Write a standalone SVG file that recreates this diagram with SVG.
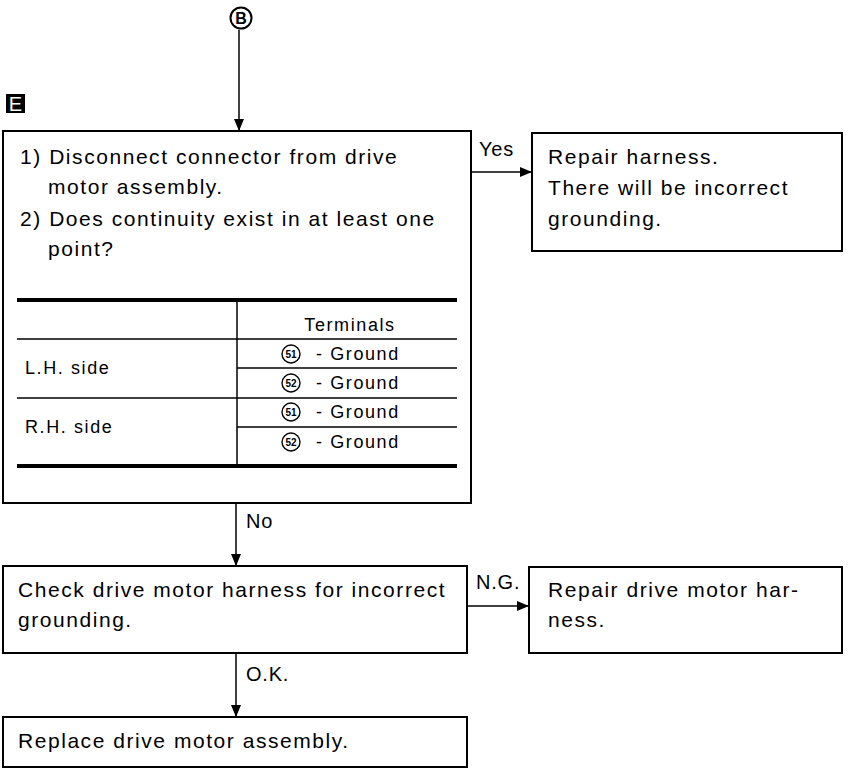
<svg xmlns="http://www.w3.org/2000/svg" width="850" height="772" viewBox="0 0 850 772">
<style>
.box{fill:#fff;stroke:#000;stroke-width:2}
.t{font-family:"Liberation Sans",Arial,sans-serif;font-size:21px;letter-spacing:1.55px;fill:#000}
.s{font-family:"Liberation Sans",Arial,sans-serif;font-size:18px;letter-spacing:1.6px;fill:#000}
.lbl{font-family:"Liberation Sans",Arial,sans-serif;font-size:20px;letter-spacing:0.8px;fill:#000}
.thin{stroke:#000;stroke-width:1.5;fill:none}
.thick{stroke:#000;stroke-width:4;fill:none}
.conn{stroke:#000;stroke-width:1.5;fill:none}
.cn{font-family:"Liberation Sans",Arial,sans-serif;font-size:10px;font-weight:bold;fill:#000}
.cc{fill:none;stroke:#000;stroke-width:1.4}
</style>
<defs>
<marker id="arr" viewBox="0 0 12 12" refX="12" refY="6" markerWidth="12" markerHeight="12" markerUnits="userSpaceOnUse" orient="auto">
<path d="M0,1 L12,6 L0,11 Z" fill="#000"/>
</marker>
</defs>
<rect width="850" height="772" fill="#fff"/>

<g id="start">
<circle cx="241" cy="18" r="10.5" fill="#fff" stroke="#000" stroke-width="2"/>
<text x="241" y="24" text-anchor="middle" font-family="Liberation Sans,Arial,sans-serif" font-size="16" font-weight="bold">B</text>
</g>

<g id="label-E">
<rect x="6" y="94" width="19" height="19" fill="#000"/>
<text x="15.5" y="111" text-anchor="middle" font-family="Liberation Sans,Arial,sans-serif" font-size="20" fill="#fff">E</text>
</g>

<g id="connectors">
<path class="conn" d="M239,30 V131" marker-end="url(#arr)"/>
<path class="conn" d="M471,172 H532" marker-end="url(#arr)"/>
<path class="conn" d="M236,503 V566" marker-end="url(#arr)"/>
<path class="conn" d="M467,606 H529" marker-end="url(#arr)"/>
<path class="conn" d="M236,653 V717" marker-end="url(#arr)"/>
<text class="lbl" x="479" y="156">Yes</text>
<text class="lbl" x="246" y="528">No</text>
<text class="lbl" x="476" y="589" font-size="18" letter-spacing="0.3">N.G.</text>
<text class="lbl" x="246" y="681">O.K.</text>
</g>

<g id="node-check">
<rect class="box" x="3" y="131" width="468" height="372"/>
<text class="t" x="20" y="164">1) Disconnect connector from drive</text>
<text class="t" x="48" y="194">motor assembly.</text>
<text class="t" x="20" y="226">2) Does continuity exist in at least one</text>
<text class="t" x="48" y="256">point?</text>
<g id="table">
<line class="thick" x1="17" y1="300" x2="457" y2="300"/>
<line class="thick" x1="17" y1="466" x2="457" y2="466"/>
<line class="thin" x1="17" y1="339" x2="457" y2="339"/>
<line class="thin" x1="237" y1="368" x2="457" y2="368"/>
<line class="thin" x1="17" y1="398" x2="457" y2="398"/>
<line class="thin" x1="237" y1="427" x2="457" y2="427"/>
<line class="thin" x1="237" y1="300" x2="237" y2="466"/>
<text class="s" x="350" y="331" text-anchor="middle" letter-spacing="0.6">Terminals</text>
<text class="s" x="25" y="374">L.H. side</text>
<text class="s" x="25" y="433">R.H. side</text>
<circle class="cc" cx="291" cy="354" r="9"/>
<text class="cn" x="291" y="358" text-anchor="middle">51</text>
<text class="s" x="316" y="360">- Ground</text>
<circle class="cc" cx="291" cy="383" r="9"/>
<text class="cn" x="291" y="387" text-anchor="middle">52</text>
<text class="s" x="316" y="389">- Ground</text>
<circle class="cc" cx="291" cy="412" r="9"/>
<text class="cn" x="291" y="416" text-anchor="middle">51</text>
<text class="s" x="316" y="418">- Ground</text>
<circle class="cc" cx="291" cy="442" r="9"/>
<text class="cn" x="291" y="446" text-anchor="middle">52</text>
<text class="s" x="316" y="448">- Ground</text>
</g>
</g>

<g id="node-repair-harness">
<rect class="box" x="532" y="133" width="310" height="118"/>
<text class="t" x="548" y="164">Repair harness.</text>
<text class="t" x="548" y="195">There will be incorrect</text>
<text class="t" x="548" y="226">grounding.</text>
</g>

<g id="node-check-harness">
<rect class="box" x="3" y="566" width="464" height="87"/>
<text class="t" x="18" y="597">Check drive motor harness for incorrect</text>
<text class="t" x="18" y="627">grounding.</text>
</g>

<g id="node-repair-motor-harness">
<rect class="box" x="529" y="567" width="313" height="86"/>
<text class="t" x="548" y="597">Repair drive motor har-</text>
<text class="t" x="548" y="627">ness.</text>
</g>

<g id="node-replace">
<rect class="box" x="3" y="717" width="464" height="50"/>
<text class="t" x="18" y="748">Replace drive motor assembly.</text>
</g>
</svg>
